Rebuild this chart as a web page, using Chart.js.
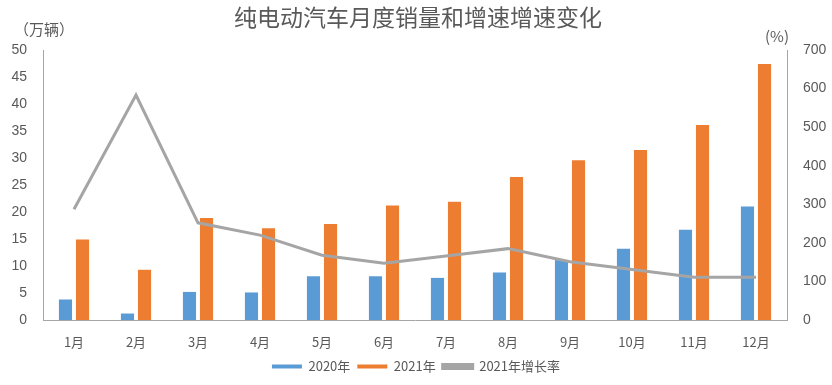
<!DOCTYPE html>
<html>
<head>
<meta charset="utf-8">
<script src="https://cdn.jsdelivr.net/npm/chart.js@4"></script>
<style>
  html, body { margin: 0; padding: 0; background: #fff; }
  #wrap { width: 832px; height: 385px; position: relative; }
</style>
</head>
<body>
<div id="wrap"><canvas id="evChart"></canvas></div>
<script>
const months = ['1月', '2月', '3月', '4月', '5月', '6月', '7月', '8月', '9月', '10月', '11月', '12月'];
const sales2020 = [3.8, 1.2, 5.2, 5.1, 8.1, 8.1, 7.8, 8.8, 11.1, 13.2, 16.7, 21.0];
const sales2021 = [14.9, 9.3, 18.9, 17.0, 17.8, 21.2, 21.9, 26.5, 29.6, 31.5, 36.1, 47.4];
const growth2021 = [287, 583, 252, 220, 168, 147, 166, 185, 151, 131, 111, 111];
const leftTicks = [0, 5, 10, 15, 20, 25, 30, 35, 40, 45, 50];
const rightTicks = [0, 100, 200, 300, 400, 500, 600, 700];

const textColor = '#595959';
const tickFont = { family: "'Liberation Sans Narrow', 'Liberation Sans', sans-serif", size: 14 };

// title + unit labels drawn on the canvas
const headerText = {
    id: 'headerText',
    afterDraw(chart) {
        const ctx = chart.ctx;
        ctx.save();
        ctx.fillStyle = textColor;
        ctx.textBaseline = 'middle';
        ctx.textAlign = 'center';
        ctx.font = "23px 'Noto Sans CJK SC', sans-serif";
        ctx.fillText('纯电动汽车月度销量和增速增速变化', 418, 17);
        ctx.font = "15px 'Noto Sans CJK SC', sans-serif";
        ctx.textAlign = 'left';
        ctx.fillText('（万辆）', 14, 29);
        ctx.fillText('(%)', 765, 36);
        ctx.restore();
    }
};

new Chart(document.getElementById('evChart'), {
    type: 'bar',
    data: {
        labels: months,
        datasets: [
            {
                label: '2020年',
                data: sales2020,
                backgroundColor: '#5b9bd5',
                yAxisID: 'y',
                order: 1,
                categoryPercentage: 0.55,
                barPercentage: 0.77
            },
            {
                label: '2021年',
                data: sales2021,
                backgroundColor: '#ed7d31',
                yAxisID: 'y',
                order: 1,
                categoryPercentage: 0.55,
                barPercentage: 0.77
            },
            {
                type: 'line',
                label: '2021年增长率',
                data: growth2021,
                borderColor: '#a5a5a5',
                backgroundColor: '#a5a5a5',
                borderWidth: 3,
                pointRadius: 0,
                tension: 0,
                yAxisID: 'y1',
                order: 0
            }
        ]
    },
    options: {
        responsive: true,
        maintainAspectRatio: false,
        animation: false,
        layout: { padding: { top: 50, left: 0, right: 0, bottom: 2 } },
        plugins: {
            title: { display: false },
            tooltip: { enabled: false },
            legend: {
                position: 'bottom',
                labels: {
                    boxWidth: 30,
                    boxHeight: 4,
                    padding: 7,
                    color: textColor,
                    font: { family: "'Noto Sans CJK SC', sans-serif", size: 13 },
                    sort: (a, b) => a.datasetIndex - b.datasetIndex
                }
            }
        },
        scales: {
            x: {
                grid: { display: false },
                border: { display: true, color: '#a6a6a6', width: 1 },
                ticks: { color: textColor, font: { family: "'Noto Sans CJK SC', sans-serif", size: 13 }, padding: 6 },
                afterFit: s => { s.height = 33; }
            },
            y: {
                position: 'left',
                min: 0,
                max: 50,
                grid: { display: false },
                border: { display: true, color: '#a6a6a6', width: 1 },
                afterBuildTicks: s => { s.ticks = leftTicks.map(v => ({ value: v })); },
                ticks: { color: textColor, font: tickFont, padding: 8 },
                afterFit: s => { s.width = 43; }
            },
            y1: {
                position: 'right',
                min: 0,
                max: 700,
                grid: { display: false },
                border: { display: true, color: '#a6a6a6', width: 1 },
                afterBuildTicks: s => { s.ticks = rightTicks.map(v => ({ value: v })); },
                ticks: { color: textColor, font: tickFont, padding: 8 },
                afterFit: s => { s.width = 45; }
            }
        }
    },
    plugins: [headerText]
});
</script>
</body>
</html>
